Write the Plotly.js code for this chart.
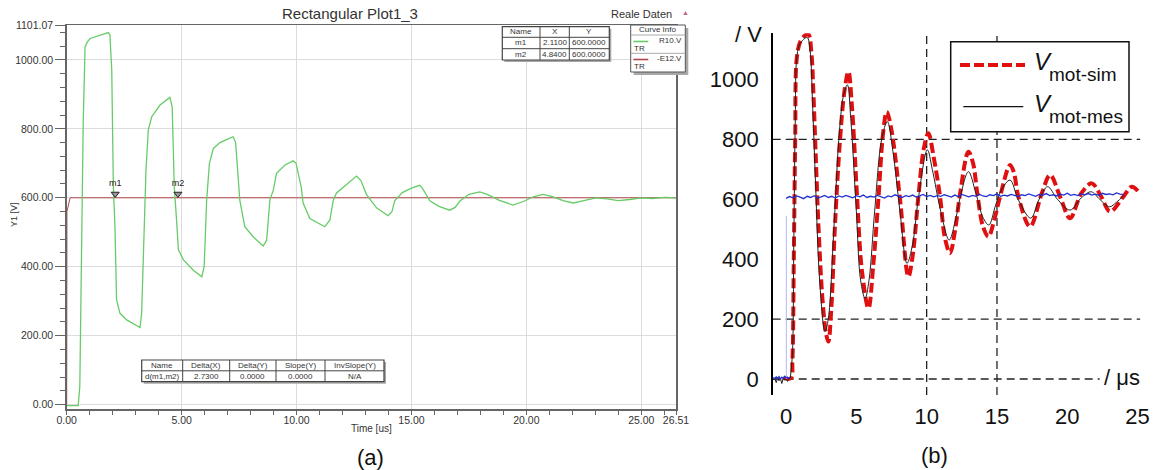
<!DOCTYPE html>
<html><head><meta charset="utf-8">
<script src="https://cdn.plot.ly/plotly-3.0.1.min.js"></script>
<style>html,body{margin:0;padding:0;background:#fff}#chart{width:1158px;height:470px}</style>
</head><body><div id="chart"></div>
<script>
// ================= Panel (a) data =================
const timeA = [0,0.5,0.57,0.64,0.72,0.80,0.9,1.02,1.31,1.6,1.81,1.88,1.96,2.03,2.10,2.17,2.32,2.61,2.97,3.19,3.26,3.33,3.45,3.55,3.70,4.06,4.49,4.59,4.68,4.78,4.86,5.08,5.51,5.88,5.98,6.09,6.21,6.38,6.67,7.0,7.24,7.35,7.45,7.53,7.75,8.11,8.55,8.7,8.84,8.99,9.13,9.5,9.85,9.98,10.2,10.29,10.58,11.23,11.45,11.6,11.74,12.2,12.61,12.8,13.04,13.48,13.98,14.15,14.27,14.6,15.0,15.36,15.5,15.8,16.2,16.66,16.9,17.1,17.5,17.97,18.3,18.8,19.42,19.9,20.3,20.72,21.1,21.6,22.03,22.5,23.04,23.5,24.0,24.5,25.0,25.5,26.0,26.51];
const voltA = [-3,-3,52,439,825,1038,1052,1062,1069,1075,1079,1073,970,632,516,304,265,246,231,224,265,439,680,796,835,869,891,864,632,536,449,420,390,371,400,594,700,743,760,770,777,760,650,594,516,487,460,477,594,622,671,695,707,700,632,584,540,516,535,594,614,640,663,650,610,571,548,560,591,615,628,636,625,591,575,564,572,590,610,617,610,593,579,590,603,610,604,592,585,592,600,597,592,595,600,598,601,600];
const refTimeA = [0,0.01,0.15,26.51];
const refVoltA = [0,560,600,600];
const markerNames = ['m1','m2'];
const markerX = [2.11,4.84];
const markerY = [600,600];
const xTicksA = [0,5,10,15,20,25,26.51];
const yTicksA = [0,200,400,600,800,1000,1101.07];
const curveNamesA = ['R10.V','-E12.V'];
const curveTypeA = ['TR','TR'];

// ================= Panel (b) data =================
const timeSim = [-0.2,0.35,0.45,0.55,0.65,0.76,1.0,1.3,1.59,1.8,1.94,2.1,2.3,2.6,2.85,3.01,3.2,3.48,3.84,4.15,4.43,4.7,5.03,5.4,5.86,6.2,6.57,6.9,7.16,7.5,8.11,8.7,9.0,9.41,9.8,10.12,10.5,10.95,11.3,11.66,12.0,12.38,12.97,13.3,13.6,14.0,14.39,14.8,15.22,15.93,16.2,16.52,17.35,18.19,18.78,19.5,20.2,21.0,21.74,22.4,23.04,23.99,24.59,25.06];
const voltSim = [3,3,60,400,800,1070,1125,1145,1150,1090,960,760,514,260,150,125,220,514,800,960,1026,900,625,360,236,380,603,820,892,830,598,342,410,609,770,820,740,609,470,420,490,620,759,720,620,510,475,530,609,714,690,609,509,620,681,607,537,620,653,610,559,609,642,625];
const timeMes = [0.3,0.45,0.55,0.65,0.78,1.0,1.5,1.7,1.9,2.1,2.4,2.77,3.0,3.4,3.8,4.1,4.36,4.6,5.0,5.3,5.62,5.9,6.3,6.8,7.2,7.6,8.1,8.6,9.0,9.4,10.05,10.4,11.0,11.6,12.0,12.4,12.97,13.5,14.0,14.42,14.9,15.3,15.93,16.5,17.4,18.0,18.6,19.3,20.2,21.0,21.7,22.3,23.0,23.5,24.0];
const voltMes = [3,80,450,850,1080,1120,1140,1100,900,650,320,158,200,500,830,950,982,870,560,330,269,330,560,800,859,760,560,386,450,600,765,700,560,464,520,610,692,620,540,514,580,630,664,600,537,600,642,600,564,605,625,600,575,590,612];
const timePre = [-0.9,-0.8,-0.7,-0.6,-0.5,-0.4,-0.3,-0.2,-0.1,0,0.1,0.2,0.3];
const voltPreBlue = [5,1,7,3,8,0,6,2,9,4,6,3,5];
const voltPreBlack = [-4,2,-12,3,-6,1,-15,4,-3,0,-8,2,1];
const trigTime = [0.02,0.02];
const trigVolt = [0,545];
const voltRef = [603,609,605,611,607,602,610,606,612,604,608,613,606,610,604,611,607,613,609,605,612,608,614,606,610,
607,613,609,604,611,608,615,610,606,612,609,614,607,611,616,609,613,608,612,610,615,611,607,614,609,
616,612,608,613,610,617,611,609,615,612,618,610,614,611,616,613,609,615,612,618,614,610,616,613,619,
612,615,611,617,614,620,613,616,612,618,615,619,614,617,613,620,616,618,615,621,617,616];
const timeRef = voltRef.map((v,i)=>i*0.25);
const xTicksB = [0,5,10,15,20,25];
const yTicksB = [0,200,400,600,800,1000];
const gridVoltB = [0,200,800];
const gridTimeB = [10,15];
const legendNamesB = [['V','mot-sim'],['V','mot-mes']];

// ================= helpers =================
const W=1158,H=470;
const PX = x => x/W, PY = y => 1-y/H;
const shapes=[], ann=[];
const FONT='Liberation Sans';
function rect(x0,y0,x1,y1,o){shapes.push(Object.assign({type:'rect',xref:'paper',yref:'paper',x0:PX(x0),x1:PX(x1),y0:PY(y1),y1:PY(y0),layer:'above'},o));}
function line(x0,y0,x1,y1,o){shapes.push(Object.assign({type:'line',xref:'paper',yref:'paper',x0:PX(x0),x1:PX(x1),y0:PY(y0),y1:PY(y1),layer:'above'},o));}
function txt(x,y,text,size,o){ann.push(Object.assign({xref:'paper',yref:'paper',x:PX(x),y:PY(y),text:text,showarrow:false,xanchor:'center',yanchor:'middle',font:{family:FONT,size:size,color:'#333'}},o||{}));}

// ---- Panel (a) overlays ----
txt(641,14,'Reale Daten',11);
txt(685,13,'▲',7,{font:{family:FONT,size:7,color:'#c0607a'}});
txt(14,215,'Y1 [V]',9,{textangle:-90});
// marker table
rect(504.3,28.7,611.3,62,{fillcolor:'#a8a8a8',line:{width:0}});
rect(502.3,26.7,609.3,60,{fillcolor:'#fff',line:{color:'#444',width:1.2}});
line(502.3,37.3,609.3,37.3,{line:{color:'#444',width:1}});
line(502.3,48.7,609.3,48.7,{line:{color:'#444',width:1}});
line(540,26.7,540,60,{line:{color:'#444',width:1}});
line(569.3,26.7,569.3,60,{line:{color:'#444',width:1}});
txt(521,32,'Name',8); txt(554.7,32,'X',8); txt(589.3,32,'Y',8);
markerNames.forEach((n,i)=>{const yy=43+i*11.4; txt(521,yy,n,8); txt(554.7,yy,markerX[i].toFixed(4),8); txt(589.3,yy,markerY[i].toFixed(4),8);});
// curve info
rect(633.7,28,688.3,75,{fillcolor:'#a8a8a8',line:{width:0}});
rect(630.7,25,685.3,72,{fillcolor:'#fff',line:{color:'#555',width:1}});
line(630.7,35,685.3,35,{line:{color:'#aaa',width:1}});
line(630.7,53.3,685.3,53.3,{line:{color:'#aaa',width:1}});
txt(658,30,'Curve Info',8);
const curveColorsA=['#66cc66','#b04848'];
curveNamesA.forEach((n,i)=>{const yb=41.5+i*18;
  line(633.3,yb,648.3,yb,{line:{color:curveColorsA[i],width:1.6}});
  txt(684,yb-1,n,8,{xanchor:'right'});
  txt(632,yb+7,curveTypeA[i],8,{xanchor:'left'});});
// delta table
rect(143.7,362,386,383.7,{fillcolor:'#a8a8a8',line:{width:0}});
rect(141.7,360,384,381.7,{fillcolor:'#fff',line:{color:'#444',width:1.2}});
line(141.7,370.8,384,370.8,{line:{color:'#444',width:1}});
const dCols=[141.7,182.7,229.7,276,325,384];
[182.7,229.7,276,325].forEach(x=>line(x,360,x,381.7,{line:{color:'#444',width:1}}));
const dx=markerX[1]-markerX[0], dy=markerY[1]-markerY[0];
const dHead=['Name','Delta(X)','Delta(Y)','Slope(Y)','InvSlope(Y)'];
const dRow=['d('+markerNames[0]+','+markerNames[1]+')',dx.toFixed(4),dy.toFixed(4),(dy/dx).toFixed(4),dy===0?'N/A':(dx/dy).toFixed(4)];
dHead.forEach((h,i)=>{const cx=(dCols[i]+dCols[i+1])/2; txt(cx,365.4,h,8); txt(cx,376.3,dRow[i],8);});
txt(370,457,'(a)',22,{font:{family:FONT,size:22,color:'#111'}});

// ---- Panel (b) overlays ----
gridVoltB.forEach(v=>shapes.push({type:'line',xref:'x2',yref:'y2',x0:-0.95,x1:(v===0?22.3:25.2),y0:v,y1:v,layer:'below',line:{color:'#222',width:1.3,dash:'8px,5px'}}));
gridTimeB.forEach(t=>shapes.push({type:'line',xref:'x2',yref:'y2',x0:t,x1:t,y0:-53.4,y1:1154,layer:'below',line:{color:'#222',width:1.3,dash:'8px,5px'}}));
rect(950.7,41.7,1129,131.7,{fillcolor:'#fff',line:{color:'#111',width:1.5}});
line(960,65,1025,65,{line:{color:'#e01010',width:4,dash:'10px,4px'}});
line(963.3,106.7,1023.3,106.7,{line:{color:'#111',width:1.2}});
legendNamesB.forEach((p,i)=>{const base=70+i*41.7;
  txt(1032,base-8,'<i>'+p[0]+'</i>',24,{xanchor:'left',font:{family:FONT,size:24,color:'#111'}});
  txt(1046.7,base+5,p[1],19,{xanchor:'left',font:{family:FONT,size:19,color:'#111'}});});
txt(748,34,'/ V',22,{font:{family:FONT,size:22,color:'#111'}});
txt(1122,377,'/ μs',22,{font:{family:FONT,size:22,color:'#111'}});
txt(935,455,'(b)',22,{font:{family:FONT,size:22,color:'#111'}});

const traces=[
 {x:refTimeA,y:refVoltA,xaxis:'x',yaxis:'y',mode:'lines',line:{color:'#b04848',width:1},hoverinfo:'skip'},
 {x:timeA,y:voltA,xaxis:'x',yaxis:'y',mode:'lines',line:{color:'#66cc66',width:1.3},hoverinfo:'skip'},
 {x:markerX,y:markerY.map(v=>v+11),xaxis:'x',yaxis:'y',mode:'markers+text',text:markerNames,textposition:'top center',
  textfont:{family:FONT,size:9,color:'#222'},marker:{symbol:'triangle-down',size:7,color:'#999',line:{color:'#222',width:1}},hoverinfo:'skip'},
 {x:timeSim,y:voltSim,xaxis:'x2',yaxis:'y2',mode:'lines',line:{color:'#e01010',width:4,dash:'10px,4px',shape:'spline',smoothing:1},hoverinfo:'skip'},
 {x:timePre,y:voltPreBlack,xaxis:'x2',yaxis:'y2',mode:'lines',line:{color:'#222',width:1},hoverinfo:'skip'},
 {x:timeMes,y:voltMes,xaxis:'x2',yaxis:'y2',mode:'lines',line:{color:'#222',width:1,shape:'spline',smoothing:1},hoverinfo:'skip'},
 {x:trigTime,y:trigVolt,xaxis:'x2',yaxis:'y2',mode:'lines',line:{color:'#b4b8f0',width:1},hoverinfo:'skip'},
 {x:timePre,y:voltPreBlue,xaxis:'x2',yaxis:'y2',mode:'lines',line:{color:'#2030d0',width:1.3},hoverinfo:'skip'},
 {x:timeRef,y:voltRef,xaxis:'x2',yaxis:'y2',mode:'lines',line:{color:'#2030d0',width:1.3},hoverinfo:'skip'}
];

const tfA={family:FONT,size:10.5,color:'#333'};
const layout={
 width:W,height:H,margin:{l:0,r:0,t:0,b:0},paper_bgcolor:'#fff',plot_bgcolor:'#fff',showlegend:false,
 title:{text:'Rectangular Plot1_3',font:{family:FONT,size:15,color:'#333'},x:350/W,xref:'container',xanchor:'center',y:1-14/H,yref:'container',yanchor:'middle'},
 xaxis:{domain:[PX(66.7),PX(676)],range:[0,26.51],anchor:'y',tickmode:'array',tickvals:xTicksA,ticktext:xTicksA.map(v=>v.toFixed(2)),
  ticks:'outside',ticklen:4,tickcolor:'#666',showgrid:true,gridcolor:'#dcdcdc',gridwidth:1,showline:true,linecolor:'#666',linewidth:1.5,mirror:true,zeroline:false,
  tickfont:tfA,minor:{tickmode:'linear',tick0:0,dtick:1,ticks:'outside',ticklen:4,tickcolor:'#666',showgrid:false},ticklabelstandoff:-3,
  title:{text:'Time [us]',font:{family:FONT,size:10,color:'#333'},standoff:0}},
 yaxis:{domain:[PY(409),PY(25)],range:[-12.5,1101.07],anchor:'x',tickmode:'array',tickvals:yTicksA,ticktext:yTicksA.map(v=>v.toFixed(2)),
  ticks:'outside',ticklen:10,tickcolor:'#666',showgrid:true,gridcolor:'#dcdcdc',gridwidth:1,showline:true,linecolor:'#666',linewidth:1.5,mirror:true,zeroline:false,
  tickfont:tfA,minor:{tickmode:'linear',tick0:0,dtick:40,ticks:'outside',ticklen:5,tickcolor:'#666',showgrid:false}},
 xaxis2:{domain:[PX(772.7),PX(1140.4)],range:[-0.95,25.2],anchor:'y2',tickmode:'array',tickvals:xTicksB,ticks:'',showline:false,showgrid:false,zeroline:false,
  tickfont:{family:FONT,size:22,color:'#111'},ticklabelstandoff:6},
 yaxis2:{domain:[PY(395),PY(33.3)],range:[-53.4,1154],anchor:'x2',tickmode:'array',tickvals:yTicksB,ticks:'',showline:true,linecolor:'#000',linewidth:1.5,showgrid:false,zeroline:false,
  tickfont:{family:FONT,size:22,color:'#111'},ticklabelstandoff:8},
 shapes:shapes,annotations:ann
};
Plotly.newPlot('chart',traces,layout,{staticPlot:true,displayModeBar:false});
</script></body></html>
